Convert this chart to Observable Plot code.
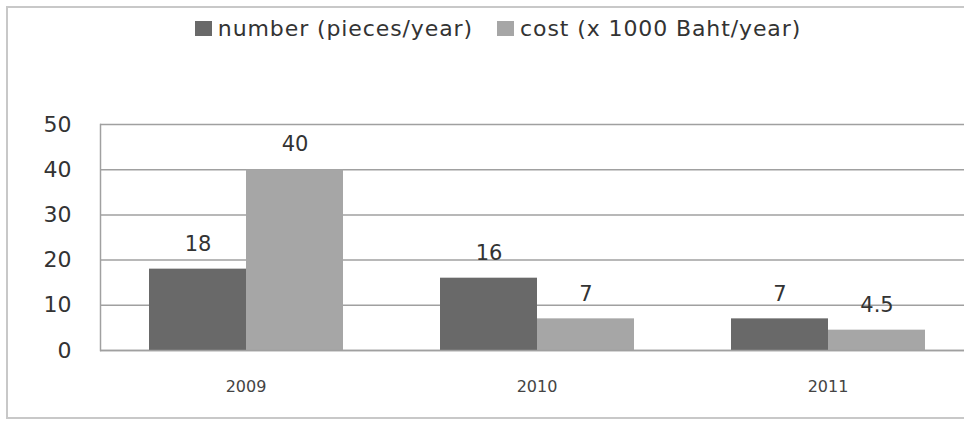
<!DOCTYPE html>
<html>
<head>
<meta charset="utf-8">
<script src="https://cdn.jsdelivr.net/npm/d3@7"></script>
<script src="https://cdn.jsdelivr.net/npm/@observablehq/plot@0.6"></script>
<style>
  html, body { margin: 0; padding: 0; background: #fff; overflow: hidden; width: 964px; height: 424px; }
  #frame { position: absolute; left: 6px; top: 6px; width: 1100px; height: 413px; border: 2px solid #c8c8c8; box-sizing: border-box; }
  #legend { position: absolute; left: 16px; top: 16px; width: 964px; display: flex; justify-content: center; align-items: center;
            font-family: "DejaVu Sans", sans-serif; font-size: 22px; letter-spacing: 0.9px; color: #333; }
  .sw { display: inline-block; width: 17px; height: 15px; margin-right: 6px; }
  .item { display: inline-flex; align-items: center; margin: 0 12px; }
  #chart { position: absolute; left: 0; top: 0; width: 1000px; }
</style>
</head>
<body>
<div id="frame"></div>
<div id="legend"></div>
<div id="chart"></div>
<script>
const years = ["2009", "2010", "2011"];
const seriesNames = ["number (pieces/year)", "cost (x 1000 Baht/year)"];
const seriesKeys = ["number", "cost"];
const numberValues = [18, 16, 7];
const costValues = [40, 7, 4.5];
const yTicks = [0, 10, 20, 30, 40, 50];
const colors = ["#696969", "#a6a6a6"];

const data = [];
years.forEach((y, i) => {
  data.push({year: y, series: "number", value: numberValues[i]});
  data.push({year: y, series: "cost", value: costValues[i]});
});

const legend = document.getElementById("legend");
seriesNames.forEach((name, i) => {
  const it = document.createElement("span");
  it.className = "item";
  it.innerHTML = `<span class="sw" style="background:${colors[i]}"></span>${name}`;
  legend.appendChild(it);
});

const chart = Plot.plot({
  width: 1000,
  height: 424,
  marginTop: 124,
  marginLeft: 100,
  marginRight: 27,
  marginBottom: 74,
  style: {fontFamily: "DejaVu Sans, sans-serif", background: "transparent", maxWidth: "none"},
  fx: {domain: years, padding: 0, label: null},
  x: {domain: seriesKeys, paddingInner: 0, paddingOuter: 0.485, axis: null},
  y: {domain: [0, 50], ticks: yTicks},
  color: {domain: seriesKeys, range: colors},
  marks: [
    Plot.gridY(yTicks, {stroke: "#a0a0a0", strokeOpacity: 1, strokeWidth: 1.5}),
    Plot.barY(data, {fx: "year", x: "series", y: "value", fill: "series"}),
    Plot.text(data, {fx: "year", x: "series", y: "value", text: d => String(d.value), dy: -25, fontSize: 21, fill: "#333"}),
    Plot.frame({anchor: "left", fx: () => years[0], stroke: "#a0a0a0", strokeWidth: 1.5}),
    Plot.ruleY([0], {stroke: "#a0a0a0", strokeWidth: 1.5}),
    Plot.axisY(yTicks, {tickSize: 0, tickPadding: 29, fontSize: 22, fill: "#333", label: null}),
    Plot.axisFx({anchor: "bottom", tickSize: 0, tickPadding: 30, fontSize: 16, fill: "#444", label: null})
  ]
});
document.getElementById("chart").appendChild(chart);
</script>
</body>
</html>
